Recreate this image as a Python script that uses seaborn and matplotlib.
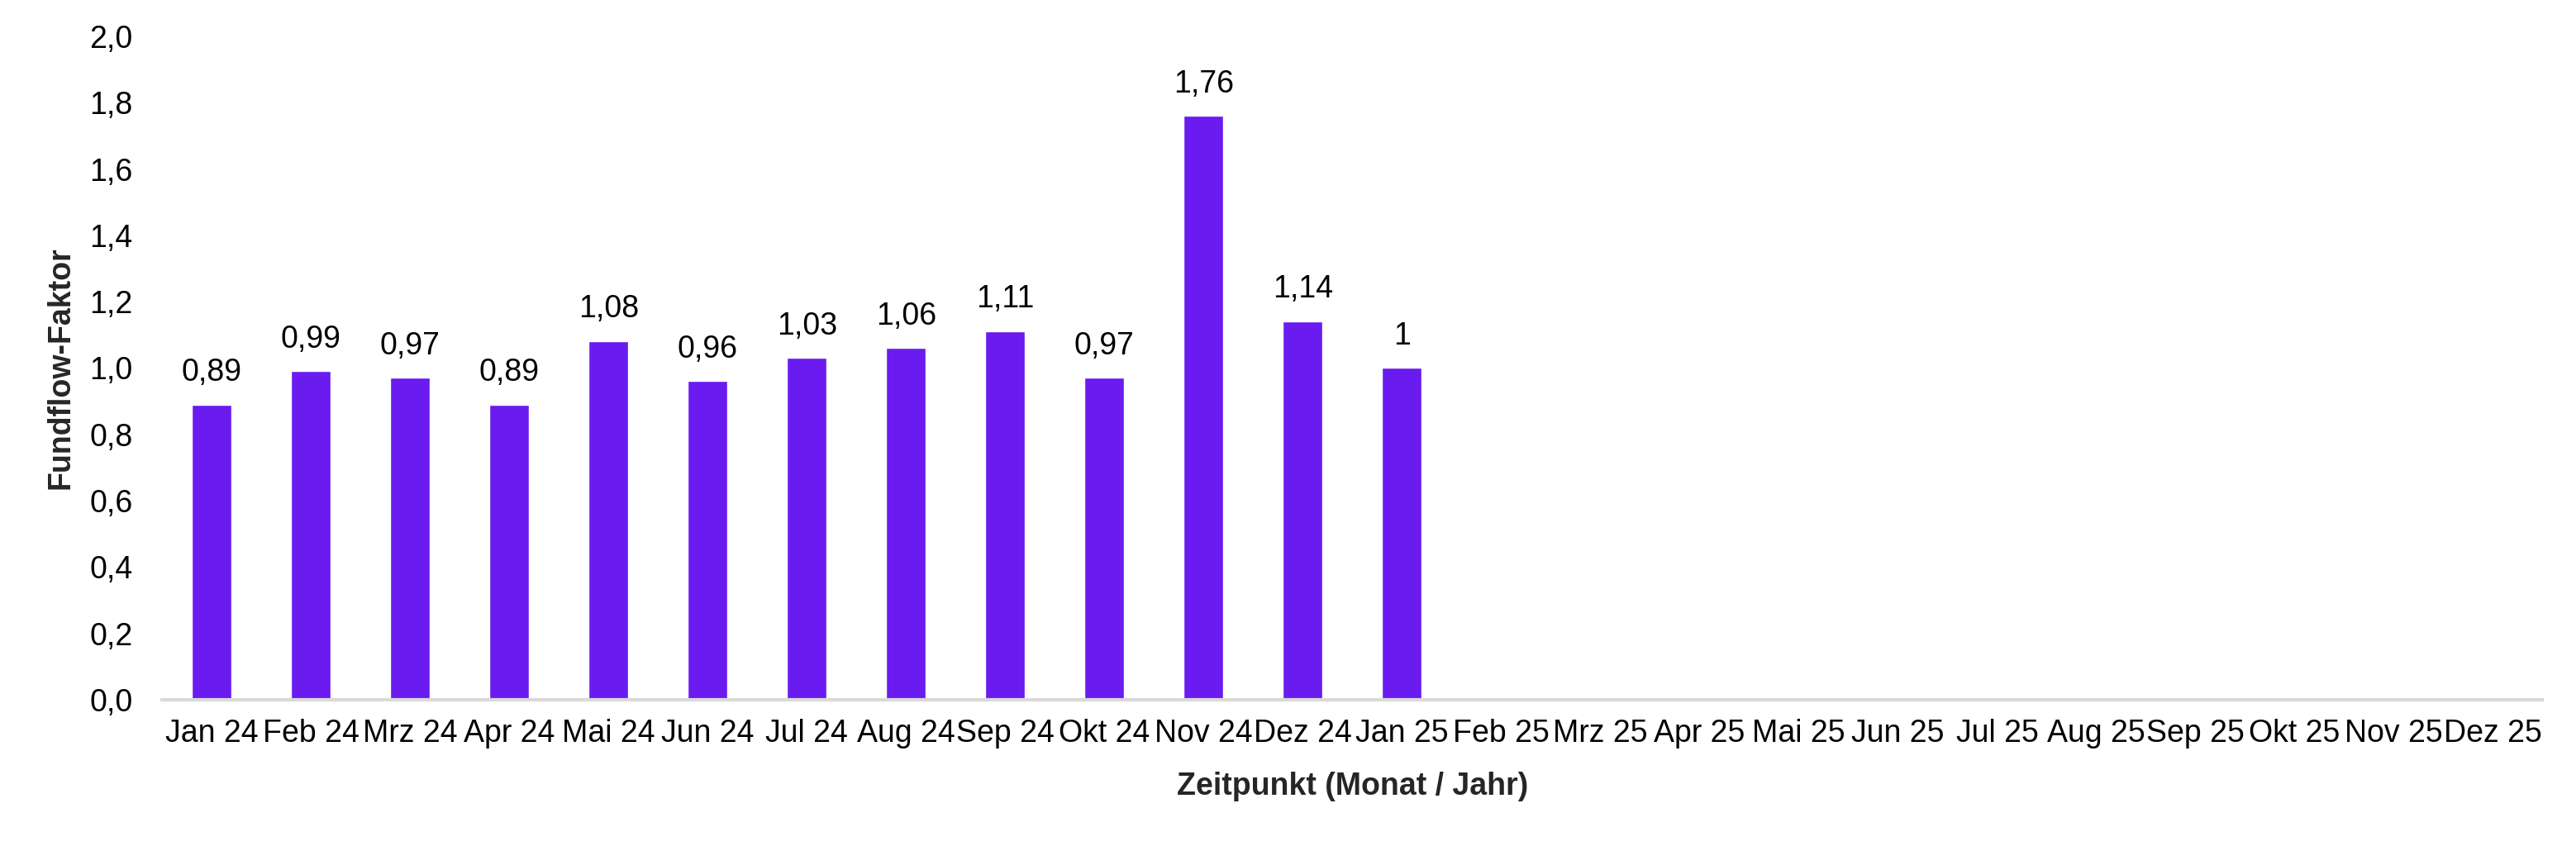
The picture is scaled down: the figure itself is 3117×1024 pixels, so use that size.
import numpy as np
import pandas as pd
import matplotlib
matplotlib.use("Agg")
import matplotlib.pyplot as plt
import seaborn as sns
from matplotlib.ticker import FuncFormatter

months = ["Jan 24", "Feb 24", "Mrz 24", "Apr 24", "Mai 24", "Jun 24", "Jul 24", "Aug 24",
          "Sep 24", "Okt 24", "Nov 24", "Dez 24", "Jan 25", "Feb 25", "Mrz 25", "Apr 25",
          "Mai 25", "Jun 25", "Jul 25", "Aug 25", "Sep 25", "Okt 25", "Nov 25", "Dez 25"]
values = [0.89, 0.99, 0.97, 0.89, 1.08, 0.96, 1.03, 1.06, 1.11, 0.97, 1.76, 1.14, 1.0,
          np.nan, np.nan, np.nan, np.nan, np.nan, np.nan, np.nan, np.nan, np.nan, np.nan, np.nan]
y_ticks = [0.0, 0.2, 0.4, 0.6, 0.8, 1.0, 1.2, 1.4, 1.6, 1.8, 2.0]

sns.set_theme(style="white")
plt.rcParams['font.family'] = ['Liberation Sans', 'DejaVu Sans']

df = pd.DataFrame({"Monat": months, "Wert": values})

fig = plt.figure(figsize=(31.17, 10.24), dpi=100)
ax = fig.add_axes([0.063, 0.173, 0.924, 0.784])

sns.barplot(data=df, x="Monat", y="Wert", order=months, color="#6A1BEF",
            width=0.4, saturation=1, ax=ax, errorbar=None)

for i, v in enumerate(values):
    if not np.isnan(v):
        ax.annotate(f"{v:g}".replace(".", ","), (i, v), xytext=(0, 15),
                    textcoords="offset points", ha="center", va="bottom",
                    fontsize=27, color="black")

ax.set_ylim(0, 2.0)
ax.set_xlim(-0.5, len(months) - 0.5)
ax.set_yticks(y_ticks)
ax.yaxis.set_major_formatter(FuncFormatter(lambda v, p: f"{v:.1f}".replace(".", ",")))
ax.tick_params(axis="both", length=0, labelsize=27, colors="black")
ax.tick_params(axis="y", pad=26)
ax.tick_params(axis="x", pad=17)

for s in ["top", "right", "left"]:
    ax.spines[s].set_visible(False)
ax.spines["bottom"].set_color("#D9D9D9")
ax.spines["bottom"].set_linewidth(3)

ax.set_xlabel("Zeitpunkt (Monat / Jahr)", fontsize=27, fontweight="bold", labelpad=20)
ax.set_ylabel("Fundflow-Faktor", fontsize=27, fontweight="bold", labelpad=12)

fig.savefig("out.png", dpi=100, facecolor="white")
